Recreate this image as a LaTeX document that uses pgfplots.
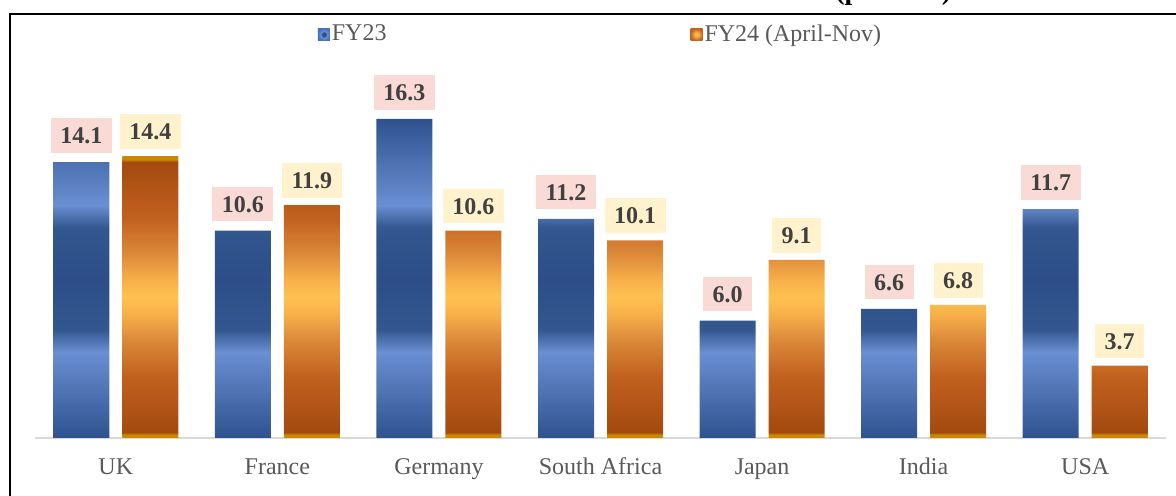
\documentclass[border=0pt]{standalone}
\usepackage{pgfplots}
\pgfplotsset{compat=1.18}
\usepackage{fontspec}
\setmainfont{Liberation Serif}

\definecolor{bEdge}{HTML}{2F528F}
\definecolor{bLight}{HTML}{6A8FD2}
\definecolor{bDark}{HTML}{33578F}
\definecolor{bCore}{HTML}{2D4E88}
\definecolor{bMid}{HTML}{4472C4}
\definecolor{oGold}{HTML}{C98A00}
\definecolor{oBrown}{HTML}{A34A10}
\definecolor{oOrange}{HTML}{C2611F}
\definecolor{oLight}{HTML}{DC8A3A}
\definecolor{oPale}{HTML}{F8B04A}
\definecolor{oCore}{HTML}{FFC150}
\definecolor{labpink}{HTML}{F9DAD5}
\definecolor{labyellow}{HTML}{FFF2CC}
\definecolor{labtext}{HTML}{404040}
\definecolor{tickgray}{HTML}{595959}
\definecolor{axisgray}{HTML}{D9D9D9}

% bar fills, bottom to top (25bp = bar bottom, 75bp = bar top)
\pgfdeclareverticalshading{fyblue}{100bp}{color(0bp)=(bEdge); color(25bp)=(bEdge);
  color(38.5bp)=(bLight); color(42bp)=(bDark); color(50bp)=(bCore);
  color(58bp)=(bDark); color(61.5bp)=(bLight); color(75bp)=(bEdge); color(100bp)=(bEdge)}
\pgfdeclareverticalshading{fyorange}{100bp}{color(0bp)=(oGold); color(25.6bp)=(oGold);
  color(26bp)=(oBrown); color(36bp)=(oOrange); color(42.5bp)=(oLight); color(47bp)=(oPale);
  color(50bp)=(oCore); color(53bp)=(oPale); color(57.5bp)=(oLight); color(64bp)=(oOrange);
  color(74bp)=(oBrown); color(74.4bp)=(oGold); color(100bp)=(oGold)}
\pgfdeclareradialshading{legblue}{\pgfpoint{0bp}{0bp}}{color(0bp)=(bCore); color(8bp)=(bCore);
  color(13bp)=(bLight); color(25bp)=(bMid); color(50bp)=(bMid)}
\pgfdeclareradialshading{legorange}{\pgfpoint{0bp}{0bp}}{color(0bp)=(oCore); color(8bp)=(oPale);
  color(25bp)=(oOrange); color(50bp)=(oOrange)}

\tikzset{
  vallabel/.style={anchor=south, text=labtext, font=\bfseries\fontsize{12}{14}\selectfont,
    inner xsep=4.75pt, inner ysep=4.5pt, text height=8.3pt, text depth=0pt},
}

\begin{document}
\begin{tikzpicture}
\begin{axis}[
  at={(17.5pt,29pt)}, anchor=south west,
  scale only axis, width=565.5pt, height=195.7pt,
  xmin=-0.5, xmax=6.5, ymin=0, ymax=20,
  axis x line=bottom, axis y line=none,
  x axis line style={-, draw=axisgray, line width=1pt},
  xtick={0,...,6},
  xticklabels={UK,France,Germany,South Africa,Japan,India,USA},
  major tick length=0pt,
  x tick label style={anchor=base, yshift=-18.5pt, font=\fontsize{12}{14}\selectfont, text=tickgray},
  ytick=\empty,
  /pgf/number format/assume math mode=true,
  clip=false,
  legend columns=2,
  legend style={at={(0.5,1.031)}, anchor=center, draw=none, fill=none,
    font=\fontsize{12}{14}\selectfont, text=tickgray,
    /tikz/every even column/.append style={column sep=151pt},
    nodes={inner xsep=1pt}},
  nodes near coords={\pgfmathprintnumber[fixed,fixed zerofill,precision=1]{\pgfplotspointmeta}},
]
\addplot[ybar, bar width=28pt, bar shift=-17.25pt, draw=none, shade, shading=fyblue,
  every node near coord/.append style={vallabel, fill=labpink, xshift=-17.25pt, yshift=4.5pt},
  legend image code/.code={\shade[shading=legblue] (0pt,-3pt) rectangle (6pt,3pt);}]
  coordinates {(0,14.1) (1,10.6) (2,16.3) (3,11.2) (4,6.0) (5,6.6) (6,11.7)};
\addlegendentry{FY23}
\addplot[ybar, bar width=28pt, bar shift=17.25pt, draw=none, shade, shading=fyorange,
  every node near coord/.append style={vallabel, fill=labyellow, xshift=17.25pt, yshift=3.5pt},
  legend image code/.code={\shade[shading=legorange] (0pt,-3pt) rectangle (6pt,3pt);}]
  coordinates {(0,14.4) (1,11.9) (2,10.6) (3,10.1) (4,9.1) (5,6.8) (6,3.7)};
\addlegendentry{FY24 (April-Nov)}
\end{axis}
\draw[line width=1pt] (5pt,-1pt) -- (5pt,241pt) -- (590pt,241pt);
\node[anchor=base west, inner sep=0pt, font=\bfseries\fontsize{14}{16}\selectfont] at (417.5pt,248.3pt) {(per cent)};
\pgfresetboundingbox
\path[use as bounding box] (0pt,0pt) rectangle (588pt,248pt);
\end{tikzpicture}
\end{document}
